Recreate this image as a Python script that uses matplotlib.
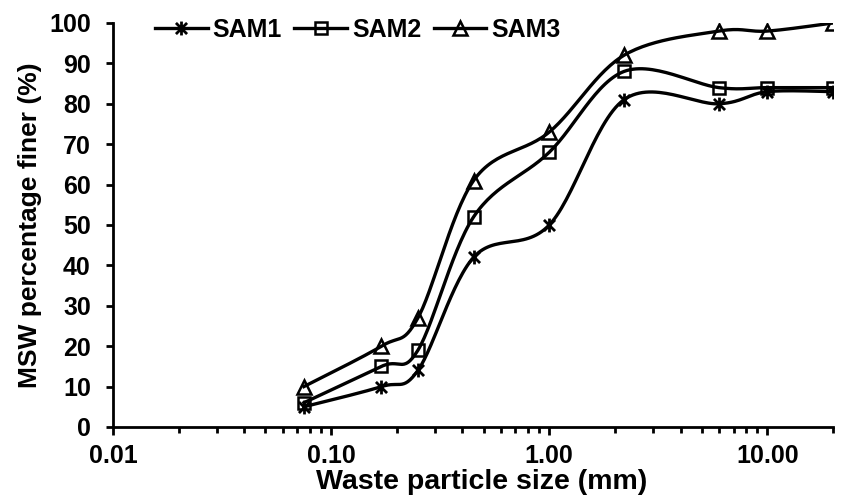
import numpy as np
import matplotlib
matplotlib.use("Agg")
import matplotlib.pyplot as plt
from matplotlib.path import Path
from matplotlib.ticker import FixedLocator, FixedFormatter, LogLocator, NullFormatter

plt.rcParams['font.family'] = ['Liberation Sans', 'DejaVu Sans']
plt.rcParams['font.weight'] = 'bold'

# Datos
tamano_mm = [0.075, 0.17, 0.25, 0.45, 1.0, 2.2, 6.0, 10.0, 20.0]
sam1 = [5, 10, 14, 42, 50, 81, 80, 83, 83]
sam2 = [6, 15, 19, 52, 68, 88, 84, 84, 84]
sam3 = [10, 20, 27, 61, 73, 92, 98, 98, 100]
series = ["SAM1", "SAM2", "SAM3"]
x_ticks = [0.01, 0.1, 1, 10]
x_tick_labels = ["0.01", "0.10", "1.00", "10.00"]
y_ticks = list(range(0, 101, 10))

N_SEG = 30  # puntos por tramo de la curva suavizada


def suavizar(x, y, n=N_SEG):
    # curva tipo Excel (Catmull-Rom / Bezier) en escala log-x
    lx = np.log10(np.asarray(x, dtype=float))
    yy = np.asarray(y, dtype=float)
    P = np.column_stack([lx, yy])
    P_ext = np.vstack([P[0], P, P[-1]])
    t = np.linspace(0, 1, n, endpoint=False)[:, None]
    trozos = []
    for i in range(len(P) - 1):
        p0, p1, p2, p3 = P_ext[i], P_ext[i + 1], P_ext[i + 2], P_ext[i + 3]
        c1 = p1 + (p2 - p0) / 6
        c2 = p2 - (p3 - p1) / 6
        b = ((1 - t) ** 3) * p1 + 3 * ((1 - t) ** 2) * t * c1 + 3 * (1 - t) * t ** 2 * c2 + t ** 3 * p2
        trozos.append(b)
    trozos.append(P[-1][None, :])
    curva = np.vstack(trozos)
    return 10 ** curva[:, 0], curva[:, 1]


estrella = Path([(0, -1), (0, 1), (-0.8, -0.8), (0.8, 0.8), (-0.8, 0.8), (0.8, -0.8)],
                [Path.MOVETO, Path.LINETO, Path.MOVETO, Path.LINETO, Path.MOVETO, Path.LINETO])

fig = plt.figure(figsize=(8.41, 5), dpi=100)
ax = fig.add_axes([113 / 841, 73 / 500, 720 / 841, 404 / 500])

estilos = [
    dict(marker=estrella, markersize=10, markeredgewidth=2.0),
    dict(marker='s', markersize=8.5, markeredgewidth=1.8, markerfacecolor='none'),
    dict(marker='^', markersize=9.5, markeredgewidth=1.8, markerfacecolor='none'),
]

for nombre, valores, est in zip(series, [sam1, sam2, sam3], estilos):
    xs, ys = suavizar(tamano_mm, valores)
    ax.plot(xs, ys, color='black', linewidth=2.4, markevery=N_SEG,
            markeredgecolor='black', label=nombre, **est)

ax.set_xscale('log')
ax.set_xlim(0.01, 20)
ax.set_ylim(0, 100)

ax.xaxis.set_major_locator(FixedLocator(x_ticks))
ax.xaxis.set_major_formatter(FixedFormatter(x_tick_labels))
ax.xaxis.set_minor_locator(LogLocator(base=10, subs=np.arange(2, 10)))
ax.xaxis.set_minor_formatter(NullFormatter())
ax.set_yticks(y_ticks)

for s in ['top', 'right']:
    ax.spines[s].set_visible(False)
for s in ['left', 'bottom']:
    ax.spines[s].set_linewidth(2.0)

ax.tick_params(axis='x', which='major', direction='out', length=5.5, width=2.0,
               labelsize=18, pad=7)
ax.tick_params(axis='x', which='minor', direction='out', length=4.5, width=2.0)
ax.tick_params(axis='y', which='major', direction='out', length=5, width=2.0,
               labelsize=18, pad=11)

ax.set_xlabel("Waste particle size (mm)", fontsize=20.5, fontweight='bold')
ax.set_ylabel("MSW percentage finer (%)", fontsize=19, fontweight='bold')
ax.xaxis.set_label_coords(0.512, -0.103)
ax.yaxis.set_label_coords(-0.098, 0.5)

ax.legend(loc='center left', bbox_to_anchor=(155 / 841, 1 - 30 / 500),
          bbox_transform=fig.transFigure, ncol=3, frameon=False,
          fontsize=18, handlelength=2.1, handletextpad=0.2, columnspacing=0.5,
          borderpad=0, borderaxespad=0)

fig.savefig("out.png", dpi=100)
